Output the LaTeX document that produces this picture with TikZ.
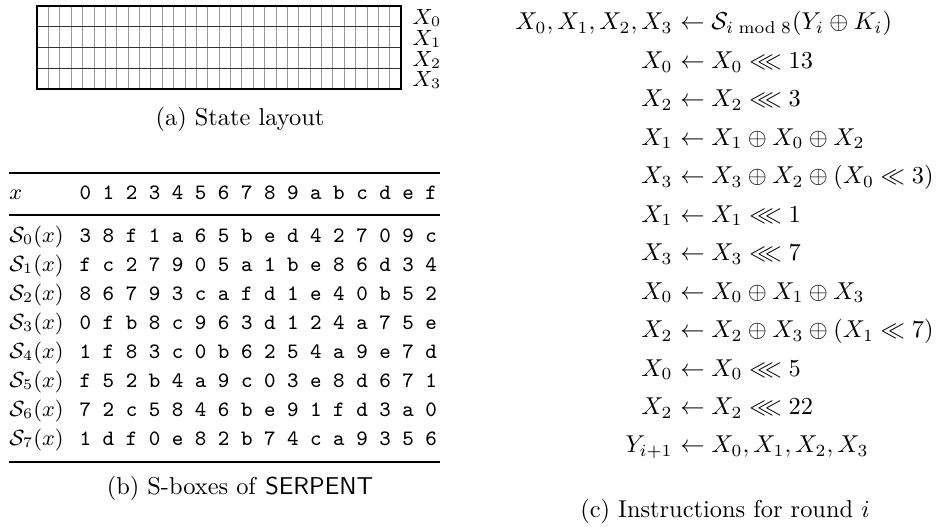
\documentclass[tikz,border=0pt]{standalone}
\usepackage{amssymb}
\begin{document}
\begin{tikzpicture}[x=0.41pt,y=-0.41pt,
  gridv/.style={draw=black!40,line width=0.3pt},
  gridh/.style={draw=black!80,line width=0.45pt},
  gridframe/.style={draw=black,line width=0.5pt},
  lbl/.style={anchor=west,inner sep=0pt,font=\small},
  captxt/.style={inner sep=0pt,anchor=base},
  heavyrule/.style={line width=0.8pt},
  lightrule/.style={line width=0.5pt},
  rowlbl/.style={anchor=mid west,inner sep=0pt,font=\small},
  hexrow/.style={anchor=mid west,inner sep=0pt,font=\small\ttfamily},
  lhs/.style={anchor=base east,inner sep=0pt},
  rhs/.style={anchor=base west,inner sep=0pt}]
\useasboundingbox (0,0) rectangle (939,527);

% (a) state layout grid
\foreach \i in {1,...,31}
  \draw[gridv] ({37+\i*364/32},6) -- ({37+\i*364/32},89);
\foreach \j in {1,2,3}
  \draw[gridh] (37,{6+\j*83/4}) -- (401,{6+\j*83/4});
\draw[gridframe] (37,6) rectangle (401,89);
\node[lbl] (x0) at (412,18) {$X_0$};
\node[lbl] (x1) at (412,39) {$X_1$};
\node[lbl] (x2) at (412,60) {$X_2$};
\node[lbl] (x3) at (412,80) {$X_3$};
\node[captxt] (capa) at (240,126) {(a) State layout};

% (b) S-boxes table
\coordinate (tl) at (9,173);
\coordinate (tr) at (440,173);
\coordinate (ml) at (9,215);
\coordinate (mr) at (440,215);
\coordinate (bl) at (9,462);
\coordinate (br) at (440,462);
\draw[heavyrule] (tl) -- (tr);
\draw[lightrule] (ml) -- (mr);
\draw[heavyrule] (bl) -- (br);
\node[rowlbl] (hx) at (9,194) {$x$};
\node[hexrow] (hh) at (79.2,194) {0 1 2 3 4 5 6 7 8 9 a b c d e f};
\foreach \k/\v in {0/{3 8 f 1 a 6 5 b e d 4 2 7 0 9 c},
                   1/{f c 2 7 9 0 5 a 1 b e 8 6 d 3 4},
                   2/{8 6 7 9 3 c a f d 1 e 4 0 b 5 2},
                   3/{0 f b 8 c 9 6 3 d 1 2 4 a 7 5 e},
                   4/{1 f 8 3 c 0 b 6 2 5 4 a 9 e 7 d},
                   5/{f 5 2 b 4 a 9 c 0 3 e 8 d 6 7 1},
                   6/{7 2 c 5 8 4 6 b e 9 1 f d 3 a 0},
                   7/{1 d f 0 e 8 2 b 7 4 c a 9 3 5 6}}{
  \node[rowlbl] (s\k) at (9,{237+29*\k}) {$\mathcal{S}_{\k}(x)$};
  \node[hexrow] (r\k) at (79.2,{237+29*\k}) {\v};
}
\node[captxt] (capb) at (240,495) {(b) S-boxes of \textsf{SERPENT}};

% (c) instructions
\def\ax{673}
\node[lhs] (l1) at (\ax,30) {$X_0, X_1, X_2, X_3$};
\node[rhs] (r1) at (\ax,30) {${}\leftarrow \mathcal{S}_{i \bmod 8}(Y_i \oplus K_i)$};
\foreach \n/\a/\b in {1/{X_0}/{X_0 \lll 13},
                      2/{X_2}/{X_2 \lll 3},
                      3/{X_1}/{X_1 \oplus X_0 \oplus X_2},
                      4/{X_3}/{X_3 \oplus X_2 \oplus (X_0 \ll 3)},
                      5/{X_1}/{X_1 \lll 1},
                      6/{X_3}/{X_3 \lll 7},
                      7/{X_0}/{X_0 \oplus X_1 \oplus X_3},
                      8/{X_2}/{X_2 \oplus X_3 \oplus (X_1 \ll 7)},
                      9/{X_0}/{X_0 \lll 5},
                      10/{X_2}/{X_2 \lll 22},
                      11/{Y_{i+1}}/{X_0, X_1, X_2, X_3}}{
  \node[lhs] (il\n) at (\ax,{30+38.45*\n}) {$\a$};
  \node[rhs] (ir\n) at (\ax,{30+38.45*\n}) {${}\leftarrow \b$};
}
\node[captxt] (capc) at (725,518) {(c) Instructions for round $i$};
\end{tikzpicture}
\end{document}
